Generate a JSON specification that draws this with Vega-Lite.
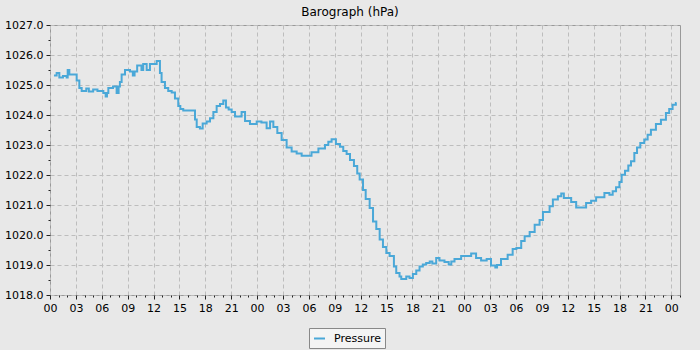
{
  "$schema": "https://vega.github.io/schema/vega-lite/v6.json",
  "width": 630,
  "height": 270,
  "autosize": {"type": "none"},
  "padding": {"left": 50, "top": 25, "right": 20, "bottom": 55},
  "background": "#e8e8e8",
  "title": {"text": "Barograph (hPa)", "anchor": "middle", "frame": "group", "dx": -15, "offset": 0, "font": "DejaVu Sans", "fontSize": 12, "fontWeight": "normal", "color": "#000000"},
  "config": {
    "view": {"fill": "#e8e8e8", "stroke": "#999999", "strokeWidth": 1},
    "font": "DejaVu Sans"
  },
  "data": {"values": [
    {"hour": 0.46, "pressure": 1025.32},
    {"hour": 0.77, "pressure": 1025.40},
    {"hour": 1.08, "pressure": 1025.25},
    {"hour": 1.5, "pressure": 1025.30},
    {"hour": 1.93, "pressure": 1025.25},
    {"hour": 2.05, "pressure": 1025.50},
    {"hour": 2.24, "pressure": 1025.35},
    {"hour": 3.09, "pressure": 1025.15},
    {"hour": 3.4, "pressure": 1024.90},
    {"hour": 3.67, "pressure": 1024.80},
    {"hour": 4.2, "pressure": 1024.88},
    {"hour": 4.5, "pressure": 1024.78},
    {"hour": 5.0, "pressure": 1024.85},
    {"hour": 5.5, "pressure": 1024.80},
    {"hour": 6.18, "pressure": 1024.73},
    {"hour": 6.45, "pressure": 1024.62},
    {"hour": 6.6, "pressure": 1024.73},
    {"hour": 6.76, "pressure": 1024.90},
    {"hour": 7.3, "pressure": 1024.95},
    {"hour": 7.72, "pressure": 1024.73},
    {"hour": 7.95, "pressure": 1024.95},
    {"hour": 8.1, "pressure": 1025.10},
    {"hour": 8.3, "pressure": 1025.35},
    {"hour": 8.69, "pressure": 1025.50},
    {"hour": 9.27, "pressure": 1025.45},
    {"hour": 9.6, "pressure": 1025.32},
    {"hour": 9.8, "pressure": 1025.45},
    {"hour": 10.1, "pressure": 1025.65},
    {"hour": 10.6, "pressure": 1025.50},
    {"hour": 10.8, "pressure": 1025.70},
    {"hour": 11.2, "pressure": 1025.50},
    {"hour": 11.58, "pressure": 1025.70},
    {"hour": 12.36, "pressure": 1025.80},
    {"hour": 12.74, "pressure": 1025.40},
    {"hour": 12.93, "pressure": 1025.10},
    {"hour": 13.32, "pressure": 1024.90},
    {"hour": 13.7, "pressure": 1024.80},
    {"hour": 14.1, "pressure": 1024.75},
    {"hour": 14.48, "pressure": 1024.55},
    {"hour": 14.86, "pressure": 1024.30},
    {"hour": 15.1, "pressure": 1024.20},
    {"hour": 15.44, "pressure": 1024.15},
    {"hour": 16.8, "pressure": 1023.85},
    {"hour": 17.0, "pressure": 1023.60},
    {"hour": 17.37, "pressure": 1023.55},
    {"hour": 17.69, "pressure": 1023.72},
    {"hour": 18.15, "pressure": 1023.78},
    {"hour": 18.54, "pressure": 1023.89},
    {"hour": 18.93, "pressure": 1024.10},
    {"hour": 19.31, "pressure": 1024.30},
    {"hour": 19.7, "pressure": 1024.37},
    {"hour": 20.08, "pressure": 1024.48},
    {"hour": 20.39, "pressure": 1024.25},
    {"hour": 20.7, "pressure": 1024.18},
    {"hour": 21.05, "pressure": 1024.10},
    {"hour": 21.44, "pressure": 1023.95},
    {"hour": 22.2, "pressure": 1024.10},
    {"hour": 22.6, "pressure": 1023.80},
    {"hour": 23.17, "pressure": 1023.70},
    {"hour": 23.95, "pressure": 1023.78},
    {"hour": 24.5, "pressure": 1023.75},
    {"hour": 25.1, "pressure": 1023.56},
    {"hour": 25.5, "pressure": 1023.78},
    {"hour": 25.88, "pressure": 1023.60},
    {"hour": 26.34, "pressure": 1023.40},
    {"hour": 26.84, "pressure": 1023.17},
    {"hour": 27.42, "pressure": 1022.92},
    {"hour": 28.0, "pressure": 1022.78},
    {"hour": 28.58, "pressure": 1022.72},
    {"hour": 29.16, "pressure": 1022.64},
    {"hour": 30.3, "pressure": 1022.76},
    {"hour": 31.1, "pressure": 1022.88},
    {"hour": 31.86, "pressure": 1023.00},
    {"hour": 32.25, "pressure": 1023.11},
    {"hour": 32.63, "pressure": 1023.19},
    {"hour": 33.13, "pressure": 1023.03},
    {"hour": 33.6, "pressure": 1022.94},
    {"hour": 33.98, "pressure": 1022.80},
    {"hour": 34.37, "pressure": 1022.70},
    {"hour": 34.76, "pressure": 1022.50},
    {"hour": 35.22, "pressure": 1022.30},
    {"hour": 35.6, "pressure": 1022.05},
    {"hour": 35.88, "pressure": 1021.85},
    {"hour": 36.27, "pressure": 1021.50},
    {"hour": 36.58, "pressure": 1021.20},
    {"hour": 37.04, "pressure": 1020.90},
    {"hour": 37.43, "pressure": 1020.45},
    {"hour": 37.81, "pressure": 1020.20},
    {"hour": 38.2, "pressure": 1019.85},
    {"hour": 38.58, "pressure": 1019.60},
    {"hour": 38.97, "pressure": 1019.40},
    {"hour": 39.35, "pressure": 1019.30},
    {"hour": 39.85, "pressure": 1018.95},
    {"hour": 40.12, "pressure": 1018.73},
    {"hour": 40.5, "pressure": 1018.62},
    {"hour": 40.7, "pressure": 1018.53},
    {"hour": 41.28, "pressure": 1018.62},
    {"hour": 41.66, "pressure": 1018.57},
    {"hour": 42.05, "pressure": 1018.70},
    {"hour": 42.44, "pressure": 1018.82},
    {"hour": 42.82, "pressure": 1018.95},
    {"hour": 43.2, "pressure": 1019.02},
    {"hour": 43.59, "pressure": 1019.07},
    {"hour": 44.0, "pressure": 1019.12},
    {"hour": 44.3, "pressure": 1019.05},
    {"hour": 44.75, "pressure": 1019.23},
    {"hour": 45.13, "pressure": 1019.15},
    {"hour": 45.71, "pressure": 1019.10},
    {"hour": 46.2, "pressure": 1019.02},
    {"hour": 46.5, "pressure": 1019.12},
    {"hour": 46.87, "pressure": 1019.20},
    {"hour": 47.64, "pressure": 1019.30},
    {"hour": 48.8, "pressure": 1019.38},
    {"hour": 49.37, "pressure": 1019.23},
    {"hour": 49.95, "pressure": 1019.15},
    {"hour": 50.6, "pressure": 1019.20},
    {"hour": 51.1, "pressure": 1018.98},
    {"hour": 51.6, "pressure": 1018.92},
    {"hour": 51.8, "pressure": 1019.00},
    {"hour": 52.26, "pressure": 1019.20},
    {"hour": 53.03, "pressure": 1019.34},
    {"hour": 53.61, "pressure": 1019.53},
    {"hour": 54.04, "pressure": 1019.57},
    {"hour": 54.6, "pressure": 1019.80},
    {"hour": 55.0, "pressure": 1019.96},
    {"hour": 55.58, "pressure": 1020.10},
    {"hour": 56.16, "pressure": 1020.34},
    {"hour": 56.73, "pressure": 1020.50},
    {"hour": 57.12, "pressure": 1020.77},
    {"hour": 57.89, "pressure": 1020.96},
    {"hour": 58.27, "pressure": 1021.18},
    {"hour": 58.85, "pressure": 1021.29},
    {"hour": 59.24, "pressure": 1021.38},
    {"hour": 59.54, "pressure": 1021.23},
    {"hour": 60.39, "pressure": 1021.10},
    {"hour": 60.97, "pressure": 1020.92},
    {"hour": 62.12, "pressure": 1021.07},
    {"hour": 62.7, "pressure": 1021.14},
    {"hour": 63.28, "pressure": 1021.26},
    {"hour": 64.24, "pressure": 1021.40},
    {"hour": 64.82, "pressure": 1021.34},
    {"hour": 65.2, "pressure": 1021.46},
    {"hour": 65.59, "pressure": 1021.59},
    {"hour": 65.98, "pressure": 1021.77},
    {"hour": 66.24, "pressure": 1022.01},
    {"hour": 66.63, "pressure": 1022.14},
    {"hour": 67.01, "pressure": 1022.32},
    {"hour": 67.32, "pressure": 1022.46},
    {"hour": 67.71, "pressure": 1022.73},
    {"hour": 68.02, "pressure": 1022.92},
    {"hour": 68.4, "pressure": 1023.07},
    {"hour": 68.86, "pressure": 1023.18},
    {"hour": 69.25, "pressure": 1023.34},
    {"hour": 69.63, "pressure": 1023.51},
    {"hour": 70.21, "pressure": 1023.70},
    {"hour": 70.79, "pressure": 1023.84},
    {"hour": 71.37, "pressure": 1024.07},
    {"hour": 71.75, "pressure": 1024.20},
    {"hour": 72.14, "pressure": 1024.34},
    {"hour": 72.52, "pressure": 1024.40},
    {"hour": 72.6, "pressure": 1024.40}
  ]},
  "mark": {"type": "line", "interpolate": "step-after", "strokeWidth": 2},
  "encoding": {
    "x": {
      "field": "hour", "type": "quantitative", "title": null,
      "scale": {"domain": [0, 73], "zero": false, "nice": false},
      "axis": {
        "values": [0,1,2,3,4,5,6,7,8,9,10,11,12,13,14,15,16,17,18,19,20,21,22,23,24,25,26,27,28,29,30,31,32,33,34,35,36,37,38,39,40,41,42,43,44,45,46,47,48,49,50,51,52,53,54,55,56,57,58,59,60,61,62,63,64,65,66,67,68,69,70,71,72,73],
        "labelExpr": "datum.value % 3 == 0 ? ((datum.value % 24) < 10 ? '0' : '') + (datum.value % 24) : ''",
        "labelOverlap": false,
        "labelBound": false,
        "labelFlush": false,
        "labelFont": "DejaVu Sans",
        "labelFontSize": 11,
        "labelColor": "#000000",
        "labelPadding": 3,
        "domain": false,
        "tickColor": "#222222",
        "tickSize": {"condition": {"test": "datum.value % 3 == 0", "value": 4}, "value": 2},
        "grid": true,
        "gridColor": "#bdbdbd",
        "gridDash": [4, 3],
        "gridWidth": 1,
        "gridOpacity": {"condition": {"test": "datum.value % 3 == 0", "value": 1}, "value": 0}
      }
    },
    "y": {
      "field": "pressure", "type": "quantitative", "title": null,
      "scale": {"domain": [1018, 1027], "zero": false, "nice": false},
      "axis": {
        "values": [1018, 1018.5, 1019, 1019.5, 1020, 1020.5, 1021, 1021.5, 1022, 1022.5, 1023, 1023.5, 1024, 1024.5, 1025, 1025.5, 1026, 1026.5, 1027],
        "labelExpr": "datum.value % 1 == 0 ? format(datum.value, '.1f') : ''",
        "labelOverlap": false,
        "labelBound": false,
        "labelFlush": false,
        "labelFont": "DejaVu Sans",
        "labelFontSize": 11,
        "labelColor": "#000000",
        "labelPadding": 3,
        "domain": false,
        "tickColor": "#222222",
        "tickSize": {"condition": {"test": "datum.value % 1 == 0", "value": 4}, "value": 2},
        "grid": true,
        "gridColor": "#bdbdbd",
        "gridDash": [4, 3],
        "gridWidth": 1,
        "gridOpacity": {"condition": {"test": "datum.value % 1 == 0", "value": 1}, "value": 0}
      }
    },
    "color": {
      "datum": "Pressure",
      "scale": {"range": ["#4aa8d8"]},
      "legend": {
        "title": null,
        "orient": "none",
        "legendX": 259,
        "legendY": 303,
        "direction": "horizontal",
        "symbolType": "stroke",
        "symbolStrokeWidth": 2,
        "symbolSize": 120,
        "labelFont": "DejaVu Sans",
        "labelFontSize": 11,
        "labelColor": "#000000",
        "labelOffset": 8,
        "fillColor": "#f4f4f4",
        "strokeColor": "#888888",
        "padding": 4,
        "cornerRadius": 0
      }
    }
  }
}
